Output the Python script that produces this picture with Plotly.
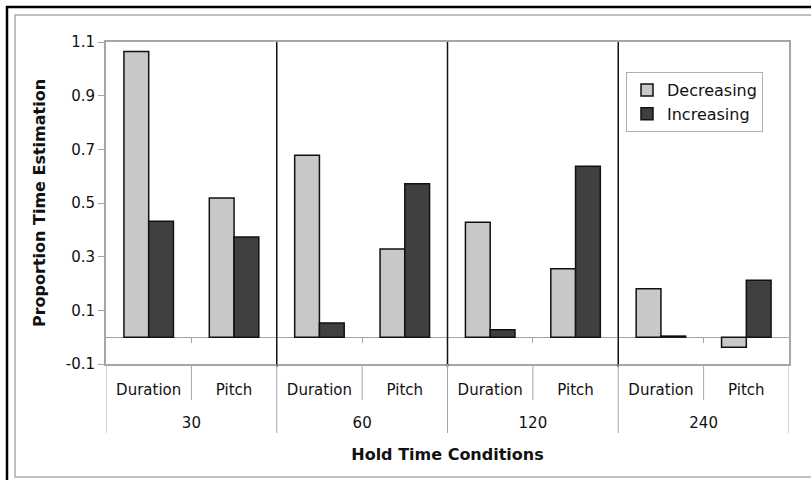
import plotly.graph_objects as go

# ---- data ----
hold_times = ["30", "30", "60", "60", "120", "120", "240", "240"]
conditions = ["Duration", "Pitch"] * 4
decreasing = [1.065, 0.519, 0.678, 0.329, 0.428, 0.255, 0.180, -0.038]
increasing = [0.432, 0.373, 0.053, 0.572, 0.028, 0.637, 0.004, 0.212]
y_ticks = [-0.1, 0.1, 0.3, 0.5, 0.7, 0.9, 1.1]

W, H = 811, 480
ML, MR, MT, MB = 106, 22, 42, 116
PW, PH = W - ML - MR, H - MT - MB


def px_x(p):
    return (p - ML) / PW


def px_y(p):
    return (H - MB - p) / PH


FONT = "DejaVu Sans, Verdana, sans-serif"
GRAY = "#a6a6a6"

n = len(conditions)
keys = [f"{g} {c}" for g, c in zip(hold_times, conditions)]

fig = go.Figure()
fig.add_trace(go.Bar(
    x=keys, y=decreasing, name="Decreasing",
    marker=dict(color="#c8c8c8", line=dict(color="#111111", width=1.5)),
))
fig.add_trace(go.Bar(
    x=keys, y=increasing, name="Increasing",
    marker=dict(color="#404040", line=dict(color="#111111", width=1.5)),
))
# helper (invisible) traces on linear overlay axes
fig.add_trace(go.Scatter(x=[], y=[], xaxis="x2", showlegend=False, hoverinfo="skip"))
fig.add_trace(go.Scatter(x=[], y=[], xaxis="x3", showlegend=False, hoverinfo="skip"))

boundaries = [i - 0.5 for i in range(1, n)]
group_bounds = [i - 0.5 for i in range(1, n) if hold_times[i] != hold_times[i - 1]]
inner_bounds = [b for b in boundaries if b not in group_bounds]

# group centres and names for the second label row
group_names, group_centres = [], []
for i, g in enumerate(hold_times):
    if not group_names or group_names[-1] != g:
        group_names.append(g)
        idx = [j for j, h in enumerate(hold_times) if h == g]
        group_centres.append(sum(idx) / len(idx))

shapes = []
# black group separators inside the plot
for b in group_bounds:
    shapes.append(dict(type="line", xref="x2", yref="paper", x0=b, x1=b,
                       y0=px_y(367), y1=1, line=dict(color="#111111", width=1.5)))
# gray dividers between Duration / Pitch labels
for b in inner_bounds:
    shapes.append(dict(type="line", xref="x2", yref="paper", x0=b, x1=b,
                       y0=px_y(400), y1=0, line=dict(color=GRAY, width=1)))
# gray dividers between hold-time groups (label area)
for b in [-0.5] + group_bounds + [n - 0.5]:
    shapes.append(dict(type="line", xref="x2", yref="paper", x0=b, x1=b,
                       y0=px_y(433), y1=0, line=dict(color=GRAY, width=1)))
# outer chart frames
shapes.append(dict(type="rect", xref="paper", yref="paper",
                   x0=px_x(7), x1=px_x(830), y0=px_y(7), y1=px_y(500),
                   line=dict(color="#000000", width=2.5), layer="below"))
shapes.append(dict(type="rect", xref="paper", yref="paper",
                   x0=px_x(15), x1=px_x(830), y0=px_y(15), y1=px_y(477),
                   line=dict(color="#aaaaaa", width=1.5), layer="below"))

fig.update_layout(
    width=W, height=H,
    margin=dict(l=ML, r=MR, t=MT, b=MB, autoexpand=False),
    paper_bgcolor="white", plot_bgcolor="white",
    font=dict(family=FONT, size=15, color="#111111"),
    barmode="group", bargap=0.42, bargroupgap=0,
    showlegend=True,
    legend=dict(x=px_x(626), y=px_y(72), xanchor="left", yanchor="top",
                bordercolor="#b0b0b0", borderwidth=1, bgcolor="white",
                font=dict(size=16), itemwidth=30, tracegroupgap=0),
    xaxis=dict(
        type="category", categoryorder="array", categoryarray=keys,
        tickvals=keys, ticktext=conditions,
        showline=True, linecolor=GRAY, linewidth=2, mirror=True, ticks="",
        showgrid=False, tickfont=dict(size=15), ticklabelstandoff=11,
    ),
    xaxis2=dict(
        overlaying="x", anchor="free", position=0.1 / 1.2,
        range=[-0.5, n - 0.5], tickvals=boundaries, ticks="outside", ticklen=5,
        tickcolor=GRAY, showticklabels=False, showline=False, showgrid=False,
        zeroline=False, fixedrange=True,
    ),
    xaxis3=dict(
        overlaying="x", anchor="free", position=0, side="bottom",
        range=[-0.5, n - 0.5], tickvals=group_centres, ticktext=group_names,
        ticks="", showline=False, showgrid=False, zeroline=False,
        tickfont=dict(size=15), ticklabelstandoff=48, fixedrange=True,
        title=dict(text="<b>Hold Time Conditions</b>", font=dict(size=16), standoff=17),
    ),
    yaxis=dict(
        range=[-0.1, 1.1], tickvals=y_ticks, ticktext=[f"{v:.1f}" for v in y_ticks],
        ticks="outside", ticklen=6, tickcolor=GRAY, showline=True, linecolor=GRAY,
        linewidth=2, mirror=True, showgrid=False, zeroline=True,
        zerolinecolor=GRAY, zerolinewidth=1, tickfont=dict(size=15),
        title=dict(text="<b>Proportion Time Estimation</b>", font=dict(size=16), standoff=16),
    ),
    shapes=shapes,
)

fig.write_html("out.html")
